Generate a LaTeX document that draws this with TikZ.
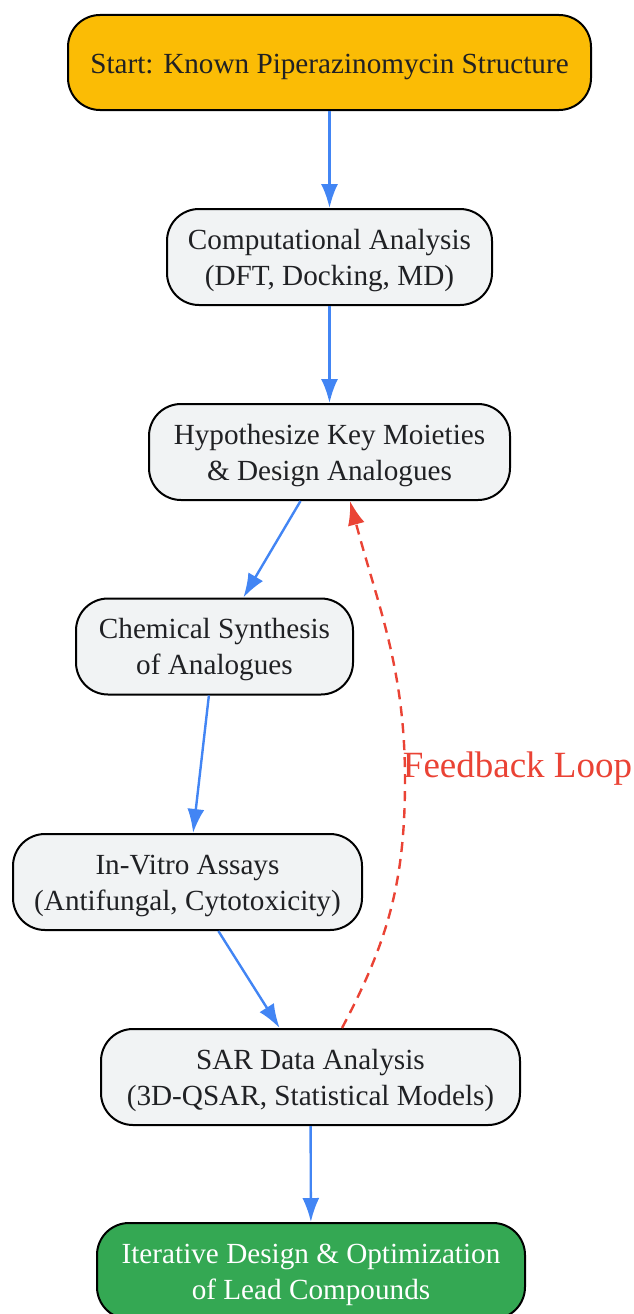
\documentclass[tikz,border=0pt]{standalone}
\usepackage{fontspec}
\setmainfont{Liberation Serif}
\usepackage{xcolor}
\usepackage{tikz}
\usetikzlibrary{calc,positioning,arrows,arrows.meta}
\definecolor{flowblue}{HTML}{4285F4}
\definecolor{loopred}{HTML}{EA4335}
\definecolor{boxgray}{HTML}{F1F3F4}
\definecolor{startyel}{HTML}{FBBC05}
\definecolor{endgreen}{HTML}{34A853}
\definecolor{txtgray}{HTML}{202124}
\newcommand{\twolines}[2]{\begin{tabular}[t]{@{}c@{}}#1\\#2\end{tabular}}
\begin{document}
\begin{tikzpicture}[x=1pt, y=-1pt,
box/.style={draw=black, line width=2pt, rounded corners=32pt, fill=boxgray, text=txtgray, minimum height=96pt, inner sep=0pt, font=\fontsize{29.2}{36}\selectfont, text height=20pt, text depth=36pt},
onebox/.style={box, text height=28pt, text depth=5pt},
myto/.style={-{Latex[length=24pt,width=17pt]}, draw=flowblue, line width=2.4pt},
fbto/.style={-{Latex[length=24pt,width=17pt]}, draw=loopred, line width=2.4pt, dash pattern=on 10pt off 7pt}]
\useasboundingbox (0,0) rectangle (634,1314);
\node[onebox, fill=startyel, minimum width=523pt, minimum height=95pt] (start) at (329.5,62.5) {Start: Known Piperazinomycin Structure};
\node[box, minimum width=325pt] (comp) at (329.5,257) {\twolines{Computational Analysis}{(DFT, Docking, MD)}};
\node[box, minimum width=361pt] (hyp) at (329.5,452) {\twolines{Hypothesize Key Moieties}{\& Design Analogues}};
\node[box, minimum width=277pt] (chem) at (214.5,646.5) {\twolines{Chemical Synthesis}{of Analogues}};
\node[box, minimum width=349pt] (assay) at (187.5,882) {\twolines{In-Vitro Assays}{(Antifungal, Cytotoxicity)}};
\node[box, minimum width=419pt] (sar) at (310.5,1077) {\twolines{SAR Data Analysis}{(3D-QSAR, Statistical Models)}};
\node[box, fill=endgreen, text=white, minimum width=428pt] (iter) at (311,1271) {\twolines{Iterative Design \& Optimization}{of Lead Compounds}};
\foreach \i/\j in {start/comp,comp/hyp,hyp/chem,chem/assay,assay/sar,sar/iter}{\draw[myto] (\i) -- (\j);}
% feedback loop
\coordinate (fbmid) at (405,780);
\draw[fbto] ($(sar.north)+(31.5,0)$) to[out=62,in=-90] (fbmid) to[out=90,in=-75] ($(hyp.south)+(20.5,0)$);
\node[text=loopred, font=\fontsize{37}{42}\selectfont, inner sep=0pt] (fblabel) at (517.5,769) {Feedback Loop};
\end{tikzpicture}
\end{document}
